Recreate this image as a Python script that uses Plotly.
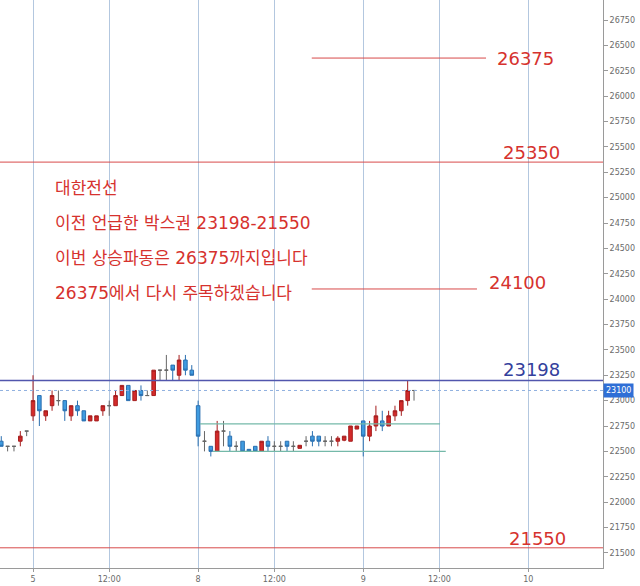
import plotly.graph_objects as go

# ---- data: 15-minute bars, index 0 = first bar of day "5" ----
bar_index = list(range(-5, 61))
opens = [22600, 22550, 22550, 22600, 22700,
         22850, 23050, 22850, 22950, 23000, 23000, 22850, 22950, 22900, 22800,
         22800, 22900, 22950, 22950, 23050, 23150, 23000, 23100, 23050, 23050,
         23300, 23300, 23350, 23250, 23400, 23300,
         22950, 22600, 22550, 22500, 22700, 22650, 22550, 22600, 22520, 22550,
         22500, 22600, 22550, 22550, 22600, 22550, 22530, 22600, 22650, 22650,
         22600, 22600, 22600, 22610, 22600, 22720,
         22800, 22650, 22750, 22800, 22750, 22850, 22900, 23000, 23100]
highs = [22650, 22550, 22550, 22700, 22700,
         23250, 23050, 22900, 23100, 23100, 23000, 22950, 23000, 22900, 22850,
         22850, 22950, 23000, 23100, 23150, 23150, 23100, 23150, 23100, 23300,
         23300, 23450, 23350, 23450, 23450, 23350,
         23000, 22700, 22550, 22800, 22800, 22700, 22600, 22600, 22520, 22550,
         22600, 22650, 22600, 22600, 22600, 22600, 22560, 22650, 22700, 22650,
         22650, 22650, 22650, 22650, 22750, 22750,
         22800, 22800, 22950, 22900, 22900, 22950, 23000, 23200, 23100]
lows = [22550, 22500, 22500, 22550, 22650,
        22800, 22750, 22800, 22900, 22950, 22800, 22800, 22850, 22800, 22800,
        22800, 22850, 22850, 22950, 23050, 23000, 23000, 23000, 23050, 23050,
        23200, 23200, 23200, 23200, 23250, 23250,
        22550, 22500, 22450, 22500, 22550, 22500, 22500, 22500, 22500, 22500,
        22500, 22500, 22500, 22500, 22500, 22500, 22530, 22550, 22550, 22550,
        22550, 22550, 22550, 22600, 22600, 22720,
        22450, 22600, 22700, 22700, 22750, 22800, 22850, 22950, 23000]
closes = [22550, 22550, 22550, 22650, 22700,
          23000, 22900, 22900, 23050, 23000, 22900, 22950, 22900, 22800, 22850,
          22850, 22950, 22950, 23050, 23150, 23000, 23100, 23050, 23050, 23300,
          23300, 23300, 23300, 23400, 23300, 23250,
          22650, 22600, 22500, 22700, 22700, 22550, 22550, 22500, 22500, 22500,
          22600, 22550, 22550, 22550, 22550, 22550, 22560, 22600, 22600, 22600,
          22600, 22600, 22630, 22650, 22750, 22750,
          22650, 22750, 22850, 22750, 22850, 22900, 23000, 23100, 23100]

# x-axis labels (bar index -> label)
tick_bars = [0, 12, 26, 38, 52, 64, 78]
tick_labels = ["5", "12:00", "8", "12:00", "9", "12:00", "10"]

# price axis ticks
price_ticks = list(range(21500, 27001, 250))

# drawn levels and their labels
levels = [26375, 25350, 24100, 23198, 21550]
level_labels = ["26375", "25350", "24100", "23198", "21550"]
box_levels = [22770, 22500]
last_price = 23100

notes = ["대한전선",
         "이전 언급한 박스권 23198-21550",
         "이번 상승파동은 26375까지입니다",
         "26375에서 다시 주목하겠습니다"]

# ---- split dojis from bodies ----
body = [i for i in range(len(bar_index)) if opens[i] != closes[i]]
doji = [i for i in range(len(bar_index)) if opens[i] == closes[i]]

def pick(arr, ids):
    return [arr[i] for i in ids]

RED = "#d42a2a"
RED_EDGE = "#a51e1e"
BLUE = "#3f9be0"
BLUE_EDGE = "#2a6fb0"

fig = go.Figure()
fig.add_trace(go.Candlestick(
    x=pick(bar_index, body), open=pick(opens, body), high=pick(highs, body),
    low=pick(lows, body), close=pick(closes, body),
    increasing=dict(fillcolor=RED, line=dict(color=RED_EDGE, width=1)),
    decreasing=dict(fillcolor=BLUE, line=dict(color=BLUE_EDGE, width=1)),
    whiskerwidth=0, hoverinfo="skip"))
fig.add_trace(go.Candlestick(
    x=pick(bar_index, doji), open=pick(opens, doji), high=pick(highs, doji),
    low=pick(lows, doji), close=pick(closes, doji),
    increasing=dict(fillcolor="#666666", line=dict(color="#666666", width=1)),
    decreasing=dict(fillcolor="#666666", line=dict(color="#666666", width=1)),
    whiskerwidth=0, hoverinfo="skip"))

TXT_RED = "#d6322e"
LINE_RED = "#d84a4a"
NAVY = "#33409c"

shapes = []
annotations = []

# level lines: (x0, x1) in paper units, colour, label x, label yshift
level_style = [
    (0.517, 0.806, LINE_RED, 1, TXT_RED, 0.871, 0),
    (0.0, 1.0, LINE_RED, 1, TXT_RED, 0.881, 10),
    (0.517, 0.791, LINE_RED, 1, TXT_RED, 0.859, 6),
    (0.0, 1.0, "#5156ad", 1.5, NAVY, 0.881, 11),
    (0.0, 1.0, LINE_RED, 1, TXT_RED, 0.892, 9),
]
for lv, lab, st in zip(levels, level_labels, level_style):
    x0, x1, col, w, tcol, lx, ys = st
    shapes.append(dict(type="line", xref="paper", yref="y", x0=x0, x1=x1,
                       y0=lv, y1=lv, line=dict(color=col, width=w)))
    annotations.append(dict(text=lab, xref="paper", yref="y", x=lx, y=lv,
                            yshift=ys, showarrow=False, xanchor="center",
                            yanchor="middle",
                            font=dict(family="DejaVu Sans", size=18, color=tcol)))

# last price dotted line
shapes.append(dict(type="line", xref="paper", yref="y", x0=0, x1=1,
                   y0=last_price, y1=last_price,
                   line=dict(color="#8fb0e0", width=1, dash="dot")))
annotations.append(dict(text=str(last_price), xref="paper", yref="y", x=1.0,
                        y=last_price, xanchor="left", yanchor="middle",
                        showarrow=False, bgcolor="#2f6fd6", borderpad=2,
                        font=dict(family="DejaVu Sans", size=8, color="white")))

# teal box lines
box_extent = [(26.3, 64.1), (28.3, 65.0)]
for lv, (a, b) in zip(box_levels, box_extent):
    shapes.append(dict(type="line", xref="x", yref="y", x0=a, x1=b,
                       y0=lv, y1=lv, line=dict(color="#74b9a9", width=1.2)))

# Korean notes
note_y = [0.669, 0.607, 0.546, 0.484]
for t, yy in zip(notes, note_y):
    annotations.append(dict(text=t, xref="paper", yref="paper", x=0.0879, y=yy,
                            xanchor="left", yanchor="middle", showarrow=False,
                            font=dict(family="DejaVu Sans, Noto Sans CJK KR",
                                      size=17, color=TXT_RED)))

fig.update_layout(
    width=640, height=586,
    margin=dict(l=0, r=37, t=0, b=18, autoexpand=False),
    paper_bgcolor="white", plot_bgcolor="white",
    showlegend=False, shapes=shapes, annotations=annotations,
    boxgap=0.2,
    xaxis=dict(range=[-5.2, 89.76], tickvals=tick_bars, ticktext=tick_labels,
               showgrid=True, gridcolor="#b3c7df", gridwidth=1,
               showline=True, linecolor="#9a9a9a", ticks="outside", ticklen=3,
               tickcolor="#9a9a9a", zeroline=False,
               tickfont=dict(family="DejaVu Sans", size=8, color="#6a6a6a"),
               rangeslider=dict(visible=False), automargin=False),
    yaxis=dict(range=[21351, 26947], side="right", tickvals=price_ticks,
               ticktext=[str(v) for v in price_ticks],
               showgrid=False, showline=True, linecolor="#9a9a9a",
               ticks="outside", ticklen=4, tickcolor="#9a9a9a", zeroline=False,
               tickfont=dict(family="DejaVu Sans", size=8, color="#6a6a6a"),
               automargin=False),
)

fig.write_html("out.html",
               config={"displayModeBar": False},
               post_script="document.body.style.margin='0';"
                           "document.body.style.overflow='hidden';")
